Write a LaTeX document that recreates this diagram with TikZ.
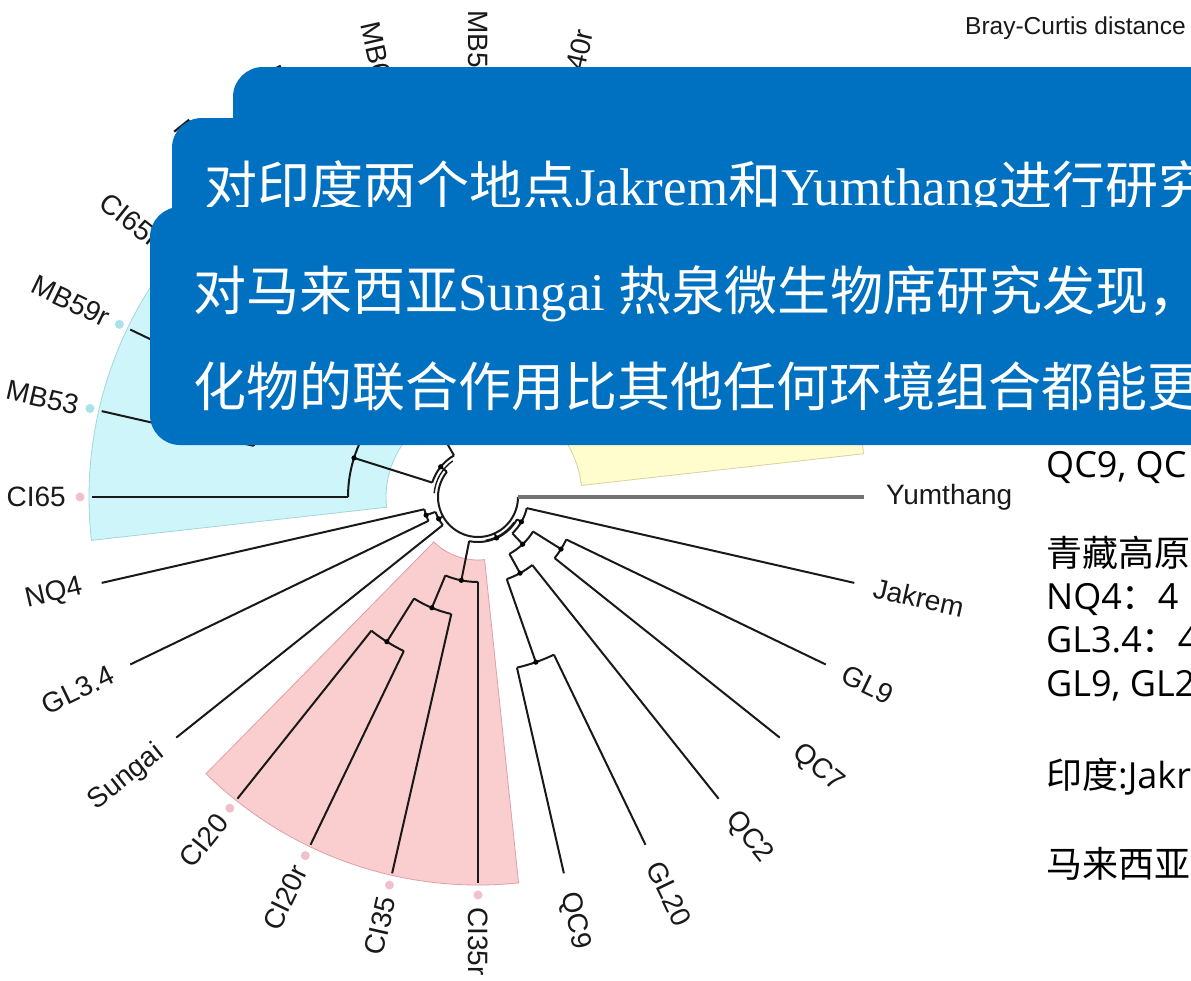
\documentclass[tikz,border=0pt]{standalone}
\usepackage{fontspec}
\setmainfont{Liberation Serif}
\newfontfamily\cjk{Noto Sans CJK SC}
\newfontfamily\labfont{Liberation Sans}
\newfontfamily\sidelat{Open Sans}
\definecolor{boxblue}{RGB}{0,112,192}
\definecolor{pinkfill}{RGB}{250,206,206}
\definecolor{pinkedge}{RGB}{222,160,166}
\definecolor{cyanfill}{RGB}{206,246,250}
\definecolor{cyanedge}{RGB}{165,212,222}
\definecolor{yelfill}{RGB}{255,253,206}
\definecolor{yeledge}{RGB}{215,210,160}
\definecolor{pinkdot}{RGB}{242,192,204}
\definecolor{cyandot}{RGB}{170,226,236}
\definecolor{labgray}{RGB}{25,25,25}
\tikzset{
  br/.style={line width=2pt, black!90},
  lab/.style={inner sep=0pt, font=\labfont\fontsize{28}{28}\selectfont, text=labgray},
  boxtext/.style={anchor=base west, inner sep=0pt, text=white, font=\fontsize{53}{60}\selectfont},
  sidetext/.style={anchor=base west, inner sep=0pt, text=black, font=\cjk\fontsize{36}{40}\selectfont},
  sector/.style={line width=0.8pt},
}
\newcommand{\dnode}[6]{% name, angle, r0, r1, arc from, arc to
  \coordinate (#1-b) at (#2:#3pt);
  \coordinate (#1) at (#2:#4pt);
  \coordinate (#1-s) at (#5:#4pt);
  \draw[br] (#1-b) -- (#1);
  \draw[br] (#1-s) arc[start angle=#5, end angle=#6, radius=#4pt];
  \fill (#1) circle (2.6pt);
}
\begin{document}
\begin{tikzpicture}[x=1pt,y=1pt]
\useasboundingbox (0,0) rectangle (1191,-980);
\clip (0,0) rectangle (1191,-980);
\fill[white] (0,0) rectangle (1191,-980);

\begin{scope}[shift={(478,-497)}]
  % coloured sectors
  \fill[cyanfill, draw=cyanedge, sector] (134.6:92pt) arc[start angle=134.6, end angle=186.4, radius=92pt]
     -- (186.4:389pt) arc[start angle=186.4, end angle=134.6, radius=389pt] -- cycle;
  \fill[pinkfill, draw=pinkedge, sector] (-134.5:63pt) arc[start angle=-134.5, end angle=-84, radius=63pt]
     -- (-84:388pt) arc[start angle=-84, end angle=-134.5, radius=388pt] -- cycle;
  \fill[yelfill, draw=yeledge, sector] (6.4:104pt) arc[start angle=6.4, end angle=70.7, radius=104pt]
     -- (70.7:388pt) arc[start angle=70.7, end angle=6.4, radius=388pt] -- cycle;

  % root arc (with the doubled parts)
  \coordinate (root) at (0,0);
  \coordinate (root-s) at (141:40pt);
  \draw[br] (root-s) arc[start angle=141, end angle=360, radius=40pt];
  \coordinate (root-d1) at (125:44pt);
  \draw[br, line width=1.4pt] (root-d1) arc[start angle=125, end angle=175, radius=44pt];
  \coordinate (root-d2) at (-80:44pt);
  \draw[br, line width=1.4pt] (root-d2) arc[start angle=-80, end angle=-35, radius=44pt];

  % internal nodes
  \dnode{R1}{141}{40}{48}{120}{162.5}
  \dnode{T}{120}{48}{110}{110}{130}
  \dnode{C1}{162.5}{48}{130}{151}{180}
  \dnode{C2}{151}{130}{180}{141.4}{160.7}
  \dnode{C3}{160.7}{180}{230}{154.3}{167.1}
  \dnode{L2}{-151}{40}{45}{-160.7}{-141.4}
  \dnode{L1}{-160.7}{45}{55}{-167.1}{-154.3}
  \dnode{Q1}{-65.6}{40}{45}{-101.3}{-29.8}
  \dnode{P1}{-101.3}{45}{85}{-112.6}{-90}
  \dnode{P2}{-112.6}{85}{120}{-122.2}{-102.9}
  \dnode{P3}{-122.2}{120}{171}{-128.6}{-115.7}
  \dnode{N1}{-29.8}{45}{50}{-46.6}{-12.9}
  \dnode{N2}{-46.6}{50}{65}{-61.1}{-32.1}
  \dnode{N3}{-32.1}{65}{98}{-38.6}{-25.7}
  \dnode{N4}{-61.1}{65}{87}{-70.7}{-51.4}
  \dnode{N5}{-70.7}{87}{175}{-77.1}{-64.3}

  % leaf branches
  \foreach \nm/\ang/\rin in {jak/-12.857/50, gl9/-25.714/98, qc7/-38.571/98, qc2/-51.429/87,
      gl20/-64.286/175, qc9/-77.143/175, ci35r/-90/85, ci35/-102.857/120, ci20r/-115.714/171,
      ci20/-128.571/171, sun/-141.429/45, gl34/-154.286/55, nq4/-167.143/55, ci65/180/130,
      mb53/167.143/230, mb59r/154.286/230, ci65r/141.429/180}{
    \coordinate (\nm-i) at (\ang:\rin pt);
    \coordinate (\nm-o) at (\ang:386pt);
    \draw[br] (\nm-i) -- (\nm-o);
  }
  \coordinate (yum-i) at (0:40pt);
  \coordinate (yum-o) at (0:386pt);
  \draw[line width=3.5pt, black!55] (yum-i) -- (yum-o);

  % tip dots
  \foreach \nm/\ang in {ci35r/-90, ci35/-102.857, ci20r/-115.714, ci20/-128.571, ci65/180}{
    \fill[pinkdot] (\ang:398pt) circle (4.5pt);
  }
  \foreach \nm/\ang in {mb53/167.143, mb59r/154.286}{
    \fill[cyandot] (\ang:398pt) circle (4.5pt);
  }

  % labels, right half
  \foreach \nm/\ang/\rr/\txt in {yum/0/408/Yumthang, jak/-12.857/406/Jakrem, gl9/-25.714/406/GL9,
      qc7/-38.571/406/QC7, qc2/-51.429/406/QC2, gl20/-64.286/406/GL20, qc9/-77.143/406/QC9,
      ci35r/-90/410/CI35r, ci40r/77.143/410/CI40r}{
    \node[lab, rotate=\ang, anchor=west] (lab-\nm) at (\ang:\rr pt) {\txt};
  }
  % labels, left half
  \foreach \nm/\ang/\rr/\txt in {ci35/-102.857/410/CI35, ci20r/-115.714/410/CI20r, ci20/-128.571/410/CI20,
      sun/-141.429/406/Sungai, gl34/-154.286/406/GL3.4, nq4/-167.143/406/NQ4, ci65/180/412/CI65,
      mb53/167.143/410/MB53, mb59r/154.286/410/MB59r, ci65r/141.429/410/CI65r, mb59/128.571/404/MB59,
      mb60/115.714/404/MB60, mb60r/102.857/404/MB60r, mb53r/90/404/MB53r}{
    \node[lab, rotate=\ang+180, anchor=east] (lab-\nm) at (\ang:\rr pt) {\txt};
  }
\end{scope}

% title
\node[lab, anchor=base west, font=\labfont\fontsize{24.5}{26}\selectfont] (title) at (965,-34) {Bray-Curtis distance};

% overlapping blue boxes
\fill[boxblue, rounded corners=30pt] (233,-67) rectangle (1400,-300);
\fill[boxblue, rounded corners=30pt] (172,-118) rectangle (1400,-300);
\node[boxtext] (t1) at (204,-205) {{\cjk 对印度两个地点}Jakrem{\cjk 和}Yumthang{\cjk 进行研究}};
\fill[boxblue, rounded corners=30pt] (150,-207) rectangle (1400,-445);
\node[boxtext] (t2) at (193,-310) {{\cjk 对马来西亚}Sungai {\cjk 热泉微生物席研究发现，}};
\node[boxtext] (t3) at (193,-406) {{\cjk 化物的联合作用比其他任何环境组合都能更}};

% side notes
\node[sidetext] (s1) at (1046,-477) {\sidelat QC9, QC};
\node[sidetext] (s2) at (1046,-566) {青藏高原};
\node[sidetext] (s3) at (1046,-609) {{\sidelat NQ4}：{\sidelat 4}};
\node[sidetext] (s4) at (1046,-652) {{\sidelat GL3.4}：{\sidelat 4}};
\node[sidetext] (s5) at (1046,-696) {\sidelat GL9, GL2};
\node[sidetext] (s6) at (1046,-788) {印度{\sidelat :Jakr}};
\node[sidetext] (s7) at (1046,-877) {马来西亚};
\end{tikzpicture}
\end{document}
